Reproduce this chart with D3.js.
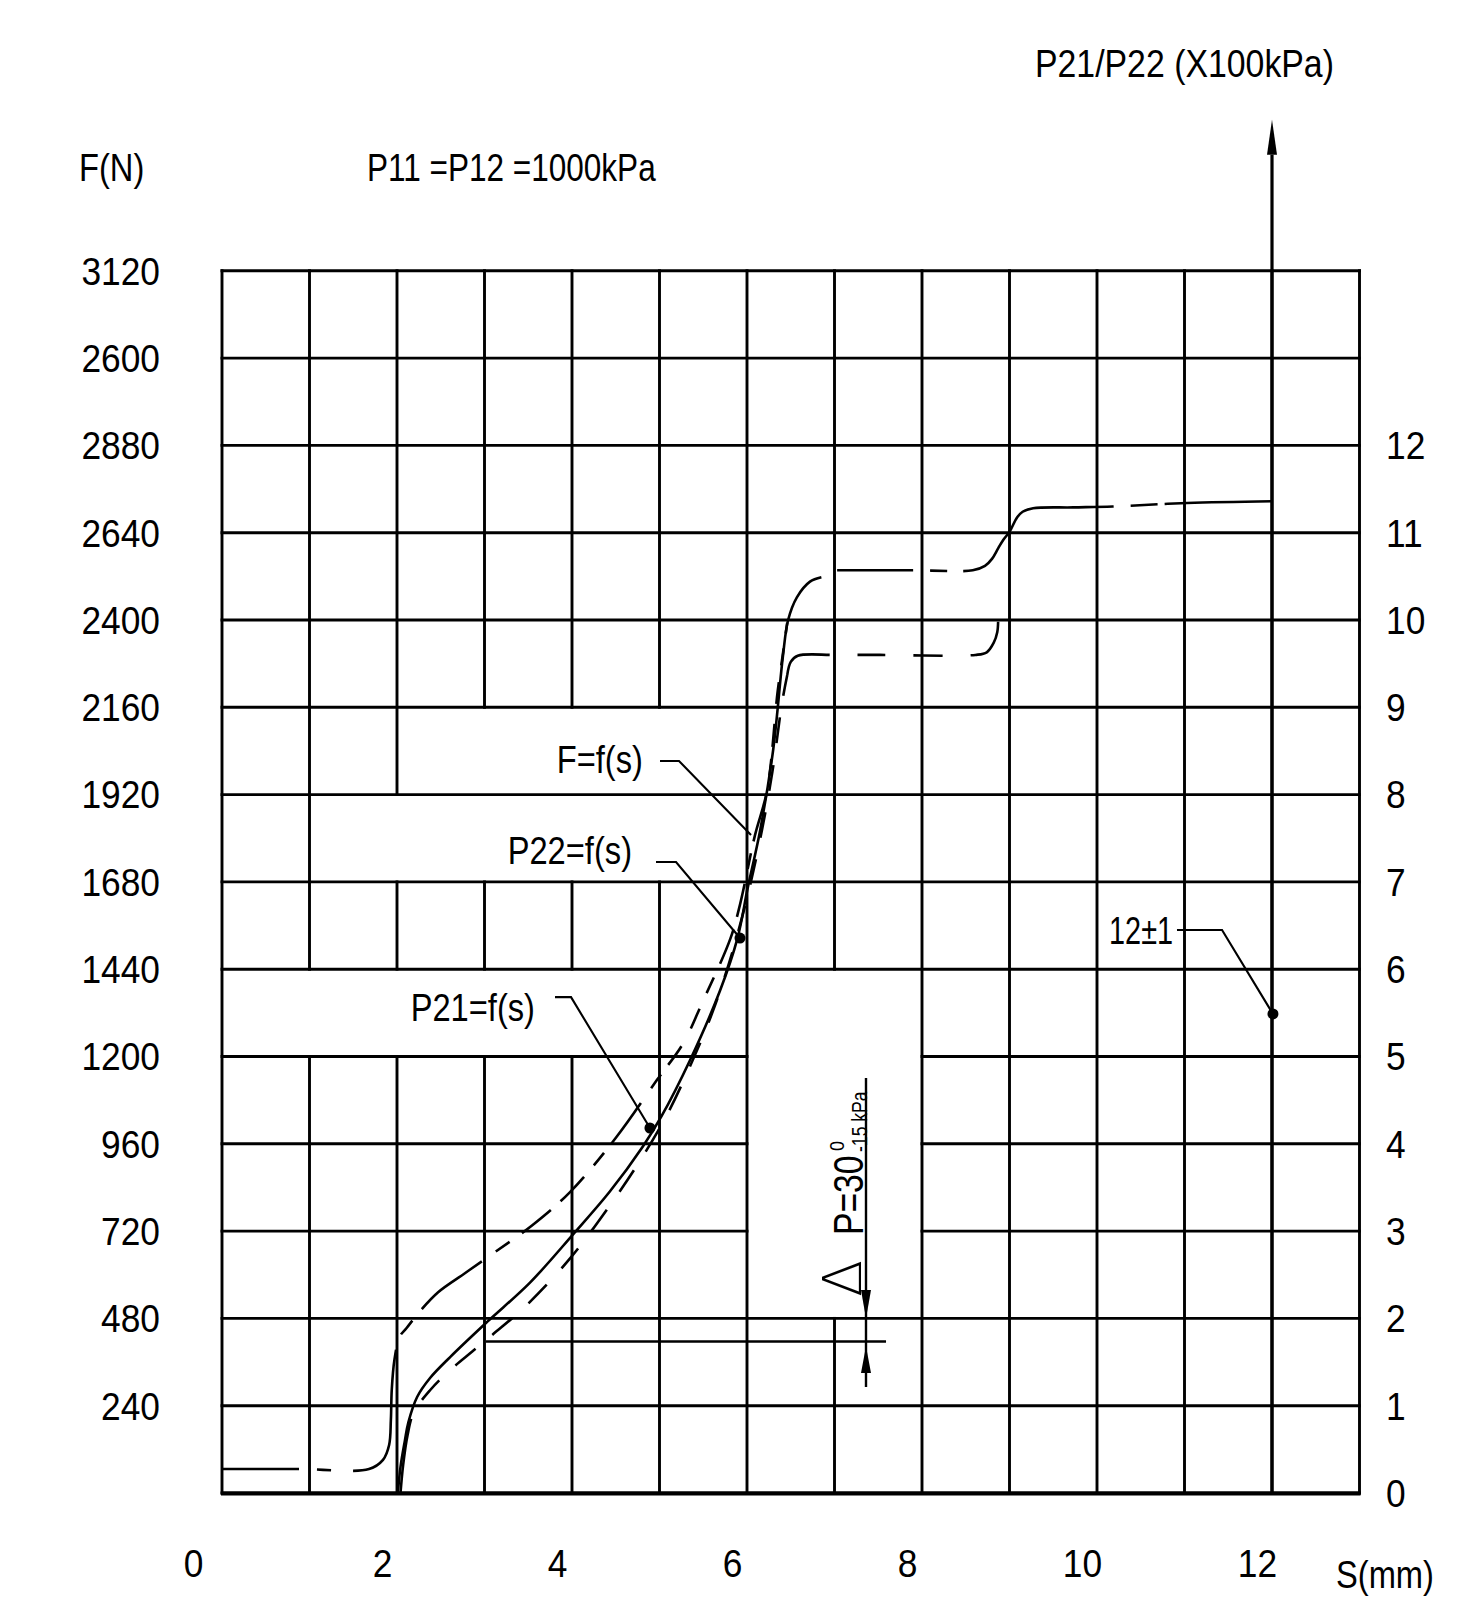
<!DOCTYPE html>
<html><head><meta charset="utf-8">
<script src="https://cdn.jsdelivr.net/npm/d3@7"></script>
<style>
html,body{margin:0;padding:0;background:#fff;}
svg{display:block;}
text{font-family:"Liberation Sans",Arial,sans-serif;fill:#000;}
</style></head><body>
<svg id="chart" width="1464" height="1617"></svg>
<script>
// ================= DATA =================
// x: stroke S (mm), right y: P21/P22 (x100 kPa) = grid row, left y: F (N)
const sTicks = [0, 2, 4, 6, 8, 10, 12];
const pTicks = [0, 1, 2, 3, 4, 5, 6, 7, 8, 9, 10, 11, 12];
const fRows = [1, 2, 3, 4, 5, 6, 7, 8, 9, 10, 11, 12, 13, 14];
const fTickLabels = ["240", "480", "720", "960", "1200", "1440", "1680", "1920", "2160", "2400", "2640", "2880", "2600", "3120"];

// F = f(s)  (solid)
const fCurve = [[2.01,0],[2.04,0.3],[2.09,0.6],[2.13,0.81],[2.23,1.10],[2.38,1.32],[2.61,1.56],[3.03,1.96],[3.52,2.41],[4.01,2.96],[4.43,3.45],[4.81,3.97],[5.02,4.31],[5.35,4.96],[5.69,5.75],[5.89,6.35],[6.01,6.94],[6.15,7.59],[6.30,8.52],[6.41,9.58],[6.47,10.0],[6.57,10.26],[6.72,10.44],[6.85,10.49]];
// P22 = f(s)  (dashed, upper-left branch)
const p22Curve = [[0,0.275],[0.88,0.275],[1.68,0.275],[1.84,0.38],[1.91,0.55],[1.93,0.84],[1.94,1.18],[1.97,1.52],[2.03,1.79],[2.11,1.89],[2.26,2.08],[2.47,2.30],[2.78,2.52],[3.12,2.76],[3.55,3.07],[3.98,3.45],[4.51,4.08],[4.97,4.73],[5.27,5.15],[5.49,5.62],[5.81,6.35],[5.92,6.74],[6.09,7.53],[6.23,8.05],[6.35,9.18],[6.40,9.54],[6.46,9.97]];
// upper plateau
const upperPlateau = [[7.03,10.57],[7.90,10.57],[8.58,10.57],[8.72,10.62],[8.80,10.70],[8.87,10.82],[8.93,10.92],[9.00,11.01],[9.09,11.18],[9.15,11.24],[9.27,11.28],[9.73,11.29],[10.18,11.30],[11.03,11.34],[12.0,11.36]];
// P21 = f(s)  (dashed, right branch)
const p21Rise = [[2.04,0],[2.07,0.32],[2.12,0.66],[2.19,0.92],[2.38,1.18],[2.61,1.41],[2.86,1.62],[3.10,1.82],[3.49,2.16],[3.98,2.69],[4.43,3.29],[4.78,3.81],[5.09,4.34],[5.38,4.96],[5.61,5.52],[5.84,6.22],[6.03,6.94],[6.17,7.59],[6.29,8.26],[6.40,9.05],[6.46,9.37]];
const p21Plateau = [[6.46,9.37],[6.50,9.52],[6.58,9.59],[7.0,9.60],[7.52,9.60],[8.61,9.60],[8.74,9.63],[8.82,9.74],[8.86,9.86],[8.87,9.98]];

// leaders (S, P)
const leaderF   = [[5.006,8.385],[5.223,8.385],[6.046,7.537]];
const leaderP22 = [[4.96,7.228],[5.189,7.228],[5.92,6.357]];
const leaderP21 = [[3.806,5.68],[3.989,5.68],[4.891,4.181]];
const leaderTol = [[10.914,6.449],[11.429,6.449],[12.011,5.487]];
const dots = [[5.92,6.357],[4.891,4.181],[12.011,5.487]];
const curveLabels = [
  {text:"F=f(s)",   s:4.81,  p:8.40},
  {text:"P22=f(s)", s:4.686, p:7.354},
  {text:"P21=f(s)", s:3.577, p:5.556},
  {text:"12±1",     s:10.869,p:6.438}
];
// blank label boxes inside the grid (S0,S1,P0,P1)
const blankBoxes = [
  {s0:2,s1:6,p0:8,p1:9},
  {s0:1,s1:6,p0:7,p1:8},
  {s0:0,s1:5,p0:5,p1:6},
  {s0:6,s1:8,p0:2,p1:6}
];
// delta-P dimension (S, P)
const dimS = 7.36, dimTopP = 4.754, dimBottomP = 1.214;
const refLine = [[3.017,1.735],[7.589,1.735]];
const arrowDown = {tip:2.0, base:2.325};
const arrowUp = {tip:1.68, base:1.375};
const axisArrow = {s:12, tip:15.73, base:15.33};

// ================= DRAW =================
const svg = d3.select('#chart');
const x = d3.scaleLinear().domain([0,13]).range([222,1359.5]);
const y = d3.scaleLinear().domain([0,14]).range([1493,270.8]);
const FONT = '"Liberation Sans", Arial, sans-serif';
const SX = 0.86, SXT = 0.93;

function label(px, py, str, opt={}) {
  const size = opt.size||38, sx = opt.sx||SX;
  const g = svg.append('g').attr('transform', `translate(${px},${py}) scale(${sx},1)`);
  g.append('text').attr('text-anchor', opt.anchor||'start')
    .attr('dy', opt.dy||0).style('font-size', size+'px').style('font-family', FONT)
    .text(str);
  return g;
}

// ---- grid ----
const nCols = 13, nRows = 14;
const blankV = (k,j) => blankBoxes.some(b => k>b.s0 && k<b.s1 && j>=b.p0 && j<b.p1);
const blankH = (j,i) => blankBoxes.some(b => j>b.p0 && j<b.p1 && i>=b.s0 && i<b.s1);
const gridG = svg.append('g').attr('stroke','#000').attr('stroke-width',2.9).attr('stroke-linecap','square');
for (let k=0;k<=nCols;k++){
  let start=null;
  for (let j=0;j<=nRows;j++){
    const on = j<nRows && !blankV(k,j);
    if (on && start===null) start=j;
    if (!on && start!==null){
      gridG.append('line').attr('x1',x(k)).attr('x2',x(k)).attr('y1',y(start)).attr('y2',y(j));
      start=null;
    }
  }
}
for (let j=0;j<=nRows;j++){
  let start=null;
  for (let i=0;i<=nCols;i++){
    const on = i<nCols && !blankH(j,i);
    if (on && start===null) start=i;
    if (!on && start!==null){
      gridG.append('line').attr('x1',x(start)).attr('x2',x(i)).attr('y1',y(j)).attr('y2',y(j));
      start=null;
    }
  }
}
// heavier bottom line
svg.append('line').attr('x1',x(0)-1).attr('x2',x(13)+1).attr('y1',y(0)+0.6).attr('y2',y(0)+0.6)
  .attr('stroke','#000').attr('stroke-width',4);

// ---- P axis (vertical arrow at S=12) ----
svg.append('line').attr('x1',x(axisArrow.s)).attr('x2',x(axisArrow.s))
  .attr('y1',y(0)).attr('y2',y(axisArrow.base)).attr('stroke','#000').attr('stroke-width',3.2);
svg.append('path').attr('d',
  `M${x(axisArrow.s)},${y(axisArrow.tip)} L${x(axisArrow.s)-5},${y(axisArrow.base)} L${x(axisArrow.s)+5},${y(axisArrow.base)} Z`)
  .attr('fill','#000');

// ---- curves ----
const line = d3.line().x(d=>x(d[0])).y(d=>y(d[1])).curve(d3.curveCatmullRom.alpha(0.5));
function drawCurve(data, prefix, repeat){
  const p = svg.append('path').datum(data).attr('d',line).attr('fill','none')
    .attr('stroke','#000').attr('stroke-width',2.6).attr('stroke-linejoin','round');
  if (prefix){
    const L = p.node().getTotalLength();
    const arr = prefix.slice(); let sum = d3.sum(arr);
    while (repeat && sum < L + 100){ for (const v of repeat){ arr.push(v); sum+=v; } }
    if (arr.length%2===1) arr.push(1);
    p.attr('stroke-dasharray', arr.join(','));
  }
  return p;
}
drawCurve(fCurve);
drawCurve(p22Curve, [77,18,14,22,145,16,18,15,77], [17,17,15,37,13,34,15,16,12,50,18,17,12,23,20,22]);
drawCurve(upperPlateau, [76,17,17,16,181,17,27,7,5000]);
drawCurve(p21Rise, [75], [22,26]);
drawCurve(p21Plateau, [55,28,28,28,29,28,5000]);

// ---- leaders & dots ----
const lline = d3.line().x(d=>x(d[0])).y(d=>y(d[1]));
[leaderF, leaderP22, leaderP21, leaderTol].forEach(l=>{
  svg.append('path').attr('d', lline(l)).attr('fill','none').attr('stroke','#000').attr('stroke-width',2.1);
});
svg.selectAll('circle.dot').data(dots).join('circle').attr('class','dot')
  .attr('cx',d=>x(d[0])).attr('cy',d=>y(d[1])).attr('r',5.5).attr('fill','#000');
curveLabels.forEach(c=> label(x(c.s), y(c.p), c.text,
  {anchor:'end', dy:'0.35em', sx: c.text.length<5 ? 0.76 : SX}));

// ---- delta P dimension ----
const dX = x(dimS);
svg.append('line').attr('x1',dX).attr('x2',dX).attr('y1',y(dimTopP)).attr('y2',y(dimBottomP))
  .attr('stroke','#000').attr('stroke-width',2.4);
svg.append('path').attr('d', lline(refLine)).attr('stroke','#000').attr('stroke-width',2.6).attr('fill','none');
svg.append('path').attr('d',`M${dX},${y(arrowDown.tip)} L${dX-5},${y(arrowDown.base)} L${dX+5},${y(arrowDown.base)} Z`).attr('fill','#000');
svg.append('path').attr('d',`M${dX},${y(arrowUp.tip)} L${dX-5},${y(arrowUp.base)} L${dX+5},${y(arrowUp.base)} Z`).attr('fill','#000');
const dg = svg.append('g').attr('transform',`translate(${dX-3},${y(2.245)}) rotate(-90)`);
dg.append('text').attr('x',0).attr('y',-2).style('font-size','54px').style('font-family','"DejaVu Sans", sans-serif').style('font-weight','200').text('Δ');
dg.append('g').attr('transform','translate(62,0) scale(0.8,1)').append('text')
  .style('font-size','42px').text('P=30');
dg.append('g').attr('transform','translate(146,-19) scale(0.85,1)').append('text')
  .style('font-size','21px').text('0');
dg.append('g').attr('transform','translate(145,4) scale(0.8,1)').append('text')
  .style('font-size','22px').text('-15 kPa');

// ---- axes ----
const leftAxis = svg.append('g').attr('transform','translate(160,0)')
  .call(d3.axisLeft(y).tickValues(fRows).tickFormat((d,i)=>fTickLabels[i]).tickSize(0).tickPadding(0));
leftAxis.select('.domain').remove();
leftAxis.selectAll('text').attr('x',0).attr('dy','0.35em').attr('transform',`scale(${SXT},1)`)
  .style('font-size','38px').style('font-family',FONT).attr('fill','#000').attr('text-anchor','end');

const rightAxis = svg.append('g').attr('transform','translate(1386,0)')
  .call(d3.axisRight(y).tickValues(pTicks).tickSize(0).tickPadding(0));
rightAxis.select('.domain').remove();
rightAxis.selectAll('text').attr('x',0).attr('dy','0.35em').attr('transform',`scale(${SXT},1)`)
  .style('font-size','38px').style('font-family',FONT).attr('fill','#000').attr('text-anchor','start');

const bottomAxis = svg.append('g').attr('transform','translate(-15,1577)')
  .call(d3.axisBottom(x).tickValues(sTicks).tickSize(0).tickPadding(0));
bottomAxis.select('.domain').remove();
bottomAxis.selectAll('text').attr('y',0).attr('dy',0)
  .attr('transform',d=>`translate(${d===0?-14:0},0) scale(${SXT},1)`)
  .style('font-size','38px').style('font-family',FONT).attr('fill','#000').attr('text-anchor','middle');

// ---- titles ----
label(79, 181, 'F(N)');
label(367, 181, 'P11 =P12 =1000kPa', {sx:0.83});
label(1035, 77, 'P21/P22 (X100kPa)', {sx:0.89});
label(1336, 1588, 'S(mm)');
</script>
</body></html>
